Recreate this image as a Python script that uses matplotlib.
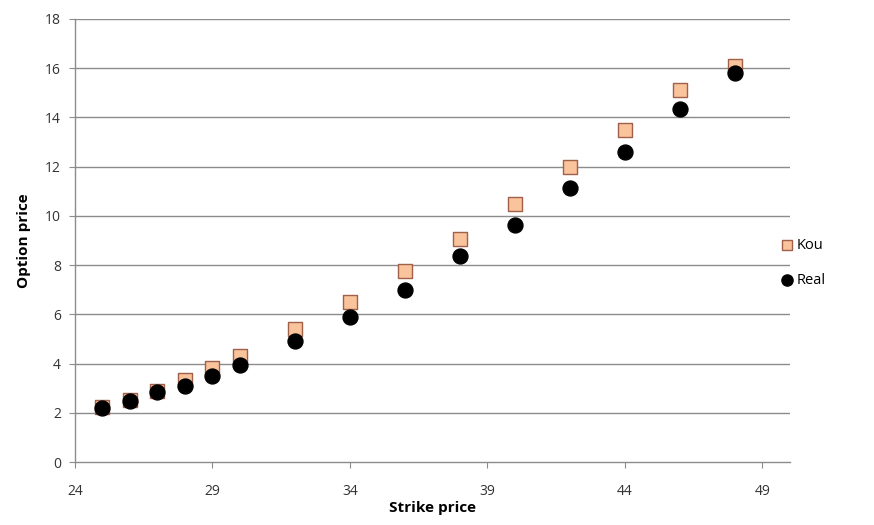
import matplotlib.pyplot as plt

strike = [25, 26, 27, 28, 29, 30, 32, 34, 36, 38, 40, 42, 44, 46, 48]
kou = [2.22, 2.5, 2.9, 3.35, 3.8, 4.3, 5.4, 6.5, 7.77, 9.06, 10.48, 12.0, 13.5, 15.1, 16.1]
real = [2.18, 2.47, 2.83, 3.1, 3.48, 3.96, 4.9, 5.9, 7.0, 8.37, 9.63, 11.12, 12.58, 14.36, 15.82]
xticks = [24, 29, 34, 39, 44, 49]
yticks = [0, 2, 4, 6, 8, 10, 12, 14, 16, 18]

plt.rcParams['font.family'] = ['Open Sans', 'DejaVu Sans']

fig = plt.figure(figsize=(8.74, 5.25), dpi=100)
ax = fig.add_axes([0.0858, 0.12, 0.818, 0.844])

for y in yticks[1:]:
    ax.axhline(y, color='#8c8c8c', lw=1.0, zorder=1)

ax.scatter(strike, kou, marker='s', s=110, facecolor='#f9c49c', edgecolor='#a0604a',
           linewidth=1.0, zorder=3, label='Kou')
ax.scatter(strike, real, marker='o', s=115, color='black', zorder=4, label='Real')

ax.set_xlim(24, 50)
ax.set_ylim(0, 18)
ax.set_xticks(xticks)
ax.set_yticks(yticks)
ax.tick_params(direction='out', length=4, color='#8c8c8c', labelsize=10,
               labelcolor='#333333', pad=6)
ax.tick_params(axis='x', pad=12)
for side in ['top', 'right']:
    ax.spines[side].set_visible(False)
for side in ['left', 'bottom']:
    ax.spines[side].set_color('#8c8c8c')
    ax.spines[side].set_linewidth(1.0)

ax.set_xlabel('Strike price', fontsize=11, fontweight='bold', labelpad=1)
ax.set_ylabel('Option price', fontsize=11, fontweight='bold', labelpad=10)

fig.legend(loc='upper left', bbox_to_anchor=(0.894, 0.547), frameon=False,
           fontsize=10.5, handlelength=0.8, handletextpad=0.25, labelspacing=1.35,
           markerscale=0.75, borderaxespad=0, borderpad=0)

fig.savefig('out.png', dpi=100)
